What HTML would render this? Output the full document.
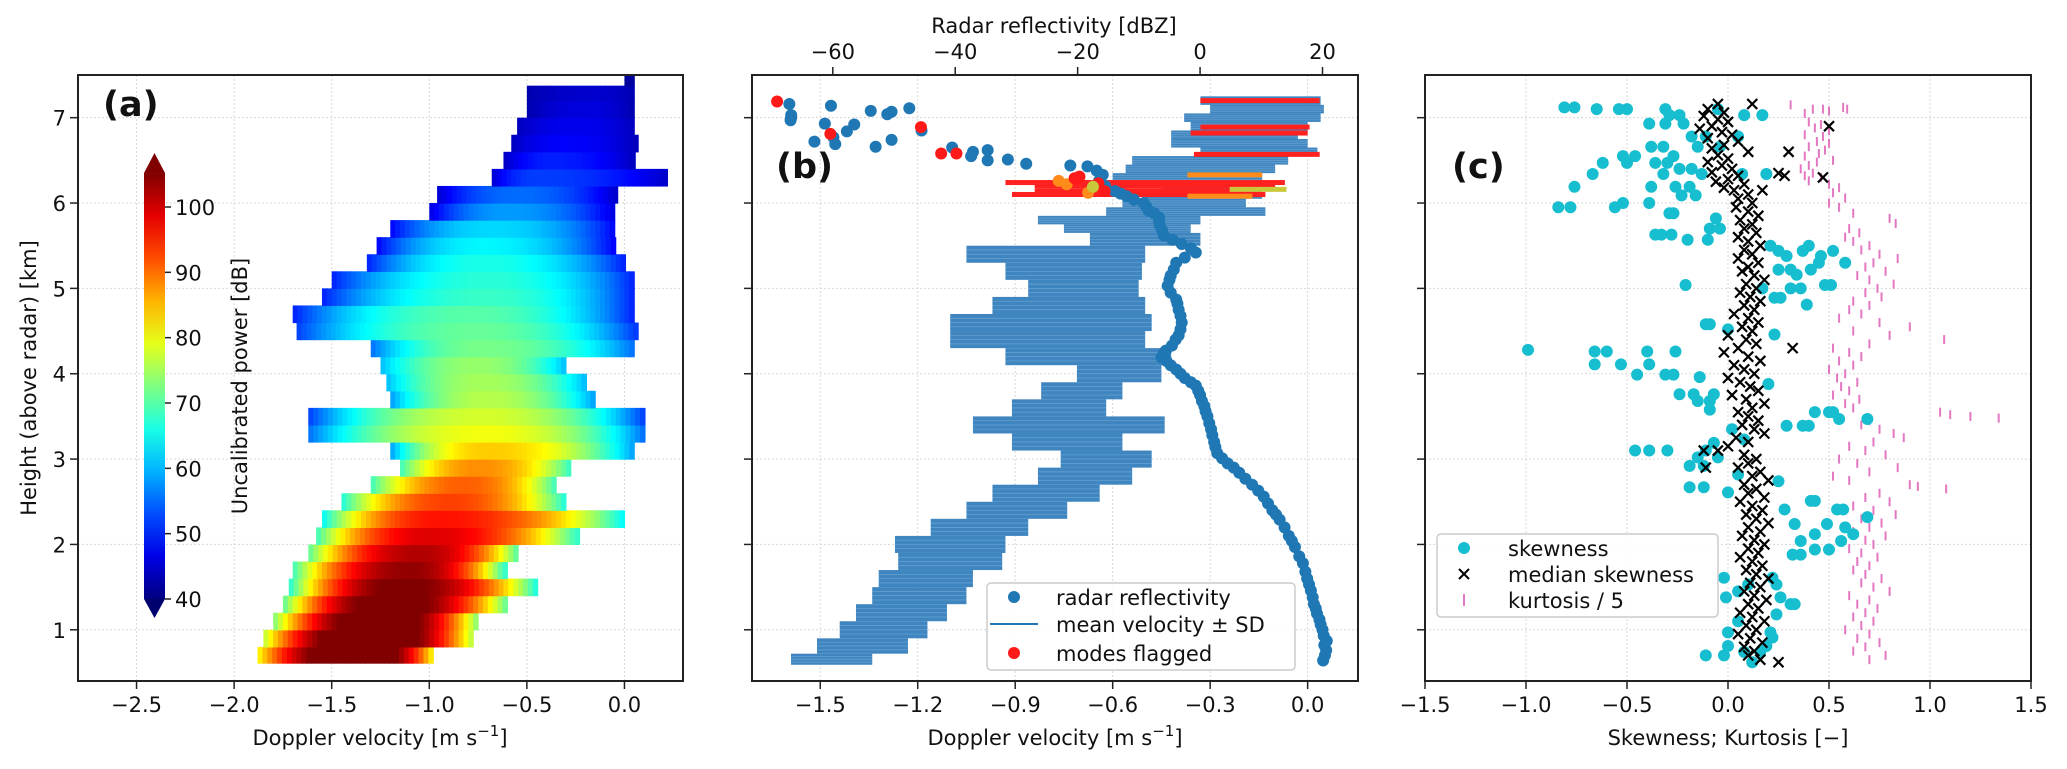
<!DOCTYPE html>
<html><head><meta charset="utf-8">
<style>
html,body{margin:0;padding:0;background:#fff;}
svg{display:block;font-family:"DejaVu Sans","Liberation Sans",sans-serif;}
</style></head>
<body>
<svg id="fig" xmlns="http://www.w3.org/2000/svg" width="2067" height="769" viewBox="0 0 2067 769">
<defs>
<clipPath id="clipA"><rect x="78" y="75" width="605" height="606"/></clipPath>
<clipPath id="clipB"><rect x="752" y="75" width="606" height="606"/></clipPath>
<clipPath id="clipC"><rect x="1425" y="75" width="606" height="606"/></clipPath>
<linearGradient id="jetGrad" x1="0" y1="1" x2="0" y2="0"></linearGradient>
</defs>
<g id="panelA"></g>
<g id="panelB"></g>
<g id="panelC"></g>
</svg>
<script>
// ---------- Panel (a) heatmap rows ----------
const aRowH   = [0.7,0.9,1.1,1.3,1.5,1.7,1.9,2.1,2.3,2.5,2.7,2.9,3.1,3.3,3.5,3.7,3.9,4.1,4.3,4.5,4.7,4.9,5.1,5.3,5.5,5.7,5.9,6.1,6.3,6.5,6.7,6.9,7.1,7.3,7.45];
const aRowL   = [-1.88,-1.85,-1.8,-1.75,-1.72,-1.7,-1.62,-1.58,-1.55,-1.45,-1.3,-1.15,-1.2,-1.62,-1.62,-1.2,-1.22,-1.25,-1.3,-1.68,-1.7,-1.55,-1.5,-1.32,-1.27,-1.2,-1.0,-0.96,-0.68,-0.62,-0.58,-0.55,-0.5,-0.5,0.0];
const aRowR   = [-0.98,-0.78,-0.75,-0.6,-0.45,-0.62,-0.55,-0.25,0.0,-0.3,-0.35,-0.28,0.05,0.1,0.1,-0.15,-0.2,-0.3,0.05,0.05,0.05,0.05,0.05,0.0,-0.05,-0.05,-0.05,-0.05,0.2,0.05,0.05,0.05,0.05,0.05,0.04];
const aRowPk  = [-1.35,-1.3,-1.25,-1.2,-1.15,-1.1,-1.05,-1.0,-0.95,-0.9,-0.82,-0.75,-0.7,-0.7,-0.72,-0.7,-0.72,-0.75,-0.72,-0.75,-0.78,-0.7,-0.7,-0.72,-0.72,-0.68,-0.6,-0.55,-0.45,-0.38,-0.3,-0.25,-0.2,-0.15,0.02];
const aRowPow = [112,112,110,108,106,104,102,99,96,93,91,88,84,80,78,76,75,74,72,71,70,68,67,66,64,62,58,55,52,50,48,47,46,45,42];
const aRowEdge= [80,76,72,70,66,68,70,68,64,66,68,68,58,55,52,58,60,60,55,52,50,50,50,50,48,48,46,45,45,44,44,44,43,43,42];
const aXTicks = [-2.5,-2.0,-1.5,-1.0,-0.5,0.0];
const aXTickLabels = ["−2.5","−2.0","−1.5","−1.0","−0.5","0.0"];
const yTicks = [1,2,3,4,5,6,7];
const cbTicks = [40,50,60,70,80,90,100];

// ---------- Panel (b) ----------
const bH = [0.64,0.8,1.0,1.2,1.4,1.6,1.8,2.0,2.2,2.4,2.6,2.8,3.0,3.2,3.4,3.6,3.8,4.0,4.2,4.4,4.6,4.8,5.0,5.2,5.4,5.6,5.7,5.8,5.9,6.0,6.1,6.2,6.3,6.4,6.5,6.6,6.7,6.8,6.9,7.0,7.1,7.2];
const bL = [-1.59,-1.51,-1.44,-1.39,-1.34,-1.32,-1.26,-1.27,-1.16,-1.05,-0.97,-0.83,-0.76,-0.91,-1.03,-0.91,-0.82,-0.71,-0.93,-1.10,-1.10,-0.97,-0.86,-0.93,-1.05,-0.67,-0.75,-0.83,-0.62,-0.57,-0.5,-0.45,-0.6,-0.56,-0.54,-0.33,-0.42,-0.42,-0.36,-0.38,-0.3,-0.33];
const bR = [-1.34,-1.23,-1.17,-1.11,-1.05,-1.03,-0.94,-0.93,-0.86,-0.74,-0.64,-0.54,-0.48,-0.57,-0.44,-0.62,-0.57,-0.45,-0.42,-0.50,-0.48,-0.50,-0.52,-0.51,-0.50,-0.33,-0.36,-0.33,-0.13,-0.19,-0.14,-0.12,-0.14,-0.1,-0.06,0.03,0.0,-0.03,0.0,0.04,0.05,0.04];
const flagH = [7.2,6.89,6.82,6.57,6.33,6.24,6.2,6.14,6.1,6.16,6.08];
const flagL = [-0.33,-0.33,-0.36,-0.35,-0.37,-0.93,-0.84,-0.84,-0.91,-0.24,-0.37];
const flagR = [0.037,0.006,0.0,0.037,-0.14,-0.07,-0.1,-0.17,-0.13,-0.065,-0.17];
const flagC = ["#ff2020","#ff2020","#ff2020","#ff2020","#ff8c1a","#ff2020","#ff2020","#ff2020","#ff2020","#c8c83a","#ff8c1a"];
const reflH = [0.64,0.7,0.76,0.82,0.87,0.93,1.0,1.06,1.12,1.19,1.25,1.3,1.38,1.46,1.53,1.6,1.68,1.78,1.86,1.97,2.04,2.1,2.2,2.29,2.35,2.4,2.48,2.56,2.63,2.7,2.77,2.84,2.9,2.95,3.01,3.07,3.14,3.2,3.28,3.35,3.42,3.5,3.56,3.62,3.68,3.75,3.8,3.86,3.9,3.95,4.0,4.05,4.1,4.15,4.19,4.23,4.27,4.33,4.4,4.45,4.52,4.6,4.68,4.75,4.82,4.87,4.95,5.03,5.1,5.15,5.22,5.3,5.36,5.42,5.47,5.52,5.57,5.62,5.68,5.74,5.79,5.83,5.88,5.91,5.96,6.0,6.04,6.08,6.11,6.14,6.2,6.26,6.33,6.38,6.43,6.44,6.46,6.51,6.5,6.62,6.6,6.55,6.65,6.66,6.69,6.72,6.74,6.77,6.85,6.84,6.92,6.93,7.03,7.04,7.07,7.11,7.08,7.14,7.16,7.0,6.97];
const reflZ = [20.1,20.4,20.6,20.3,20.7,20.2,20.0,19.7,19.5,19.1,18.9,18.6,18.4,18.1,17.8,17.5,17.2,16.8,16.2,15.5,15.0,14.5,13.8,13.0,12.4,11.8,11.1,10.4,9.5,8.5,7.4,6.4,5.5,4.5,3.6,2.8,2.5,2.3,2.0,1.8,1.5,1.2,0.9,0.7,0.3,0.0,-0.3,-0.7,-1.5,-2.5,-3.2,-3.9,-4.8,-5.5,-6.3,-6.0,-5.6,-4.6,-4.0,-3.5,-3.2,-3.0,-3.2,-3.5,-3.7,-3.9,-4.8,-5.3,-5.0,-4.8,-4.3,-3.9,-2.5,-0.7,-1.5,-3.0,-4.5,-5.9,-6.2,-6.6,-6.7,-6.7,-7.5,-8.4,-8.8,-9.2,-10.8,-12.0,-13.0,-13.9,-15.5,-16.5,-15.9,-16.9,-18.4,-21.2,-28.4,-31.4,-34.7,-34.7,-37.1,-37.4,-40.5,-53.0,-59.6,-63.0,-50.4,-59.9,-45.5,-57.7,-56.5,-61.3,-66.8,-51.1,-50.4,-47.5,-53.8,-60.3,-67.1,-66.8,-66.9];
const flagZ = [-69.1,-60.4,-45.6,-42.3,-39.8,-19.7,-16.6,-15.6,-23.1,-18.3,-21.8,-17.5,-20.5];
const flagZH= [7.19,6.81,6.89,6.58,6.58,6.31,6.23,6.14,6.26,6.12,6.22,6.19,6.29];
const flagZC= ["#ff1a1a","#ff1a1a","#ff1a1a","#ff1a1a","#ff1a1a","#ff1a1a","#ff1a1a","#ff1a1a","#ff8c1a","#ff8c1a","#ff8c1a","#c8c83a","#ff1a1a"];
const bXTicks = [-1.5,-1.2,-0.9,-0.6,-0.3,0.0];
const bXTickLabels = ["−1.5","−1.2","−0.9","−0.6","−0.3","0.0"];
const bTopTicks = [-60,-40,-20,0,20];
const bTopTickLabels = ["−60","−40","−20","0","20"];

// ---------- Panel (c) ----------
const skewH = [7.12,7.12,7.1,7.1,7.1,7.1,7.1,7.03,7.03,7.03,7.03,6.93,6.93,6.93,6.78,6.78,6.78,6.66,6.66,6.66,6.66,6.55,6.55,6.55,6.47,6.47,6.47,6.47,6.4,6.4,6.34,6.34,6.34,6.34,6.34,6.19,6.19,6.19,6.19,6.09,6.09,6.0,6.0,5.95,5.95,5.95,5.88,5.88,5.82,5.7,5.7,5.63,5.63,5.63,5.57,5.57,5.5,5.5,5.44,5.44,5.44,5.38,5.38,5.3,5.3,5.22,5.22,5.22,5.16,5.04,5.04,5.04,5.0,5.0,5.0,4.89,4.89,4.81,4.58,4.58,4.52,4.46,4.28,4.26,4.26,4.26,4.26,4.11,4.11,4.11,3.99,3.99,3.99,3.96,3.88,3.76,3.76,3.76,3.68,3.68,3.58,3.55,3.55,3.55,3.47,3.47,3.39,3.39,3.39,3.35,3.23,3.19,3.1,3.1,3.1,3.1,3.02,3.02,2.92,2.92,2.82,2.74,2.67,2.67,2.61,2.51,2.51,2.41,2.41,2.41,2.32,2.24,2.24,2.2,2.12,2.12,2.04,2.04,1.94,1.94,1.88,1.88,1.61,1.61,1.53,1.53,1.45,1.38,1.38,1.3,1.3,1.18,1.1,0.97,0.97,0.91,0.81,0.81,0.74,0.74,0.7,0.7,0.62];
const skewV = [-0.81,-0.76,-0.65,-0.54,-0.5,-0.31,-0.05,-0.29,-0.24,0.08,0.17,-0.22,-0.31,-0.39,-0.18,-0.11,0.05,-0.38,-0.32,-0.15,-0.04,-0.52,-0.46,-0.27,-0.62,-0.5,-0.36,-0.3,-0.24,-0.18,-0.67,-0.32,-0.13,0.07,0.19,-0.38,-0.76,-0.26,-0.19,-0.23,-0.16,-0.39,-0.52,-0.84,-0.78,-0.56,-0.29,-0.27,-0.06,-0.09,-0.04,-0.36,-0.33,-0.28,-0.2,-0.1,0.21,0.4,0.25,0.37,0.52,0.29,0.46,0.45,0.58,0.25,0.31,0.41,0.34,-0.21,0.48,0.51,0.17,0.36,0.31,0.23,0.26,0.39,-0.11,-0.09,0.0,0.23,-0.99,-0.66,-0.6,-0.4,-0.26,-0.66,-0.53,-0.39,-0.45,-0.31,-0.27,-0.14,0.2,-0.24,-0.17,-0.07,-0.15,-0.09,-0.09,0.43,0.5,0.52,0.55,0.69,0.29,0.37,0.4,0.02,0.08,-0.07,-0.46,-0.39,-0.3,-0.11,-0.15,-0.05,-0.19,-0.12,0.05,0.25,-0.19,-0.12,0.0,0.41,0.43,0.28,0.54,0.57,0.69,0.49,0.33,0.58,0.43,0.62,0.36,0.56,0.43,0.5,0.32,0.36,-0.02,0.22,0.24,0.1,0.05,-0.01,0.26,0.31,0.33,0.24,0.05,0.0,0.21,0.22,0.0,0.19,0.08,0.16,-0.11,-0.02,0.12];
const medH = [7.16,7.1,7.06,7.02,6.98,6.95,6.9,6.87,6.83,6.8,6.76,6.72,6.68,6.64,6.6,6.56,6.52,6.48,6.44,6.4,6.36,6.32,6.28,6.25,6.22,6.18,6.15,6.1,6.05,6.0,5.95,5.9,5.85,5.8,5.75,5.7,5.65,5.6,5.55,5.5,5.45,5.4,5.35,5.3,5.25,5.2,5.15,5.1,5.05,5.0,4.95,4.9,4.85,4.8,4.75,4.7,4.65,4.6,4.55,4.5,4.45,4.4,4.35,4.3,4.25,4.2,4.15,4.1,4.05,4.0,3.95,3.9,3.85,3.8,3.75,3.7,3.65,3.6,3.55,3.5,3.45,3.4,3.35,3.3,3.25,3.2,3.15,3.1,3.05,3.0,2.95,2.9,2.85,2.8,2.75,2.7,2.65,2.6,2.55,2.5,2.45,2.4,2.35,2.3,2.25,2.2,2.15,2.1,2.05,2.0,1.95,1.9,1.85,1.8,1.75,1.7,1.65,1.6,1.55,1.5,1.45,1.4,1.35,1.3,1.25,1.2,1.15,1.1,1.05,1.0,0.95,0.9,0.85,0.8,0.75,0.7,0.65,7.16,6.9,6.6,6.3,6.35,6.32,6.15,4.3,3.1,2.9,0.62];
const medV = [-0.05,-0.1,-0.02,-0.12,-0.05,0.0,-0.08,-0.14,-0.03,0.02,-0.1,0.05,-0.02,-0.08,0.1,-0.05,0.0,-0.1,-0.03,0.02,-0.08,0.05,0.0,-0.06,0.08,-0.02,0.03,0.1,0.05,0.12,0.04,0.1,0.15,0.06,0.12,0.08,0.14,0.05,0.1,0.16,0.08,0.12,0.05,0.15,0.1,0.07,0.13,0.18,0.09,0.14,0.06,0.11,0.16,0.08,0.13,0.03,0.1,0.15,0.07,0.12,0.0,0.09,0.14,0.05,-0.02,0.1,0.16,0.03,0.08,0.13,0.0,0.06,0.11,0.15,0.02,0.09,0.18,0.12,0.05,0.1,0.15,0.07,0.13,0.18,0.04,0.1,0.0,-0.05,0.08,0.14,0.1,0.05,0.16,0.12,0.2,0.08,0.14,0.1,0.18,0.06,0.12,0.17,0.09,0.14,0.2,0.1,0.16,0.07,0.13,0.18,0.1,0.15,0.06,0.12,0.17,0.09,0.14,0.2,0.11,0.16,0.08,0.13,0.19,0.1,0.15,0.06,0.12,0.18,0.09,0.14,0.05,0.11,0.17,0.08,0.13,0.1,0.16,0.12,0.5,0.3,0.47,0.25,0.28,0.17,0.32,-0.12,-0.11,0.25];
const kurtH = [7.15,7.1,7.1,7.08,7.05,7.12,7.1,6.95,6.92,6.88,6.85,6.8,6.78,6.72,6.7,6.66,6.62,6.58,6.55,6.5,6.48,6.44,6.4,6.35,6.32,6.3,6.26,6.22,6.18,6.12,6.06,6.0,5.95,5.88,5.82,5.76,5.7,5.65,5.6,5.55,5.5,5.45,5.4,5.35,5.3,5.25,5.2,5.15,5.1,5.05,5.0,4.95,4.9,4.85,4.8,4.75,4.7,4.65,4.6,4.55,4.5,4.45,4.4,4.35,4.3,4.25,4.2,4.15,4.1,4.05,4.0,3.95,3.9,3.85,3.8,3.75,3.7,3.65,3.6,3.55,3.52,3.5,3.48,3.45,3.4,3.35,3.3,3.25,3.2,3.15,3.1,3.05,3.0,2.95,2.9,2.85,2.8,2.75,2.7,2.68,2.65,2.6,2.55,2.5,2.45,2.4,2.35,2.3,2.25,2.2,2.15,2.1,2.05,2.0,1.95,1.9,1.85,1.8,1.75,1.7,1.65,1.6,1.55,1.5,1.45,1.4,1.35,1.3,1.25,1.2,1.15,1.1,1.05,1.0,0.95,0.9,0.85,0.8,0.75,0.7,0.65];
const kurtV = [0.31,0.42,0.47,0.5,0.38,0.57,0.59,0.4,0.46,0.43,0.5,0.38,0.47,0.44,0.5,0.4,0.48,0.45,0.38,0.52,0.44,0.4,0.36,0.42,0.38,0.46,0.4,0.5,0.55,0.52,0.58,0.5,0.55,0.62,0.8,0.83,0.6,0.65,0.58,0.62,0.7,0.66,0.75,0.84,0.72,0.68,0.78,0.64,0.7,0.82,0.74,0.68,0.76,0.62,0.7,0.6,0.66,0.55,0.75,0.9,0.62,0.8,1.07,0.7,0.52,0.6,0.66,0.55,0.62,0.5,0.58,0.54,0.64,0.56,0.6,0.52,0.65,0.58,0.62,1.05,1.1,1.2,1.34,0.7,0.66,0.75,0.82,0.87,0.72,0.6,0.68,0.78,0.55,0.64,0.84,0.7,0.52,0.6,0.9,0.94,1.08,0.75,0.68,0.8,0.62,0.72,0.83,0.66,0.76,0.7,0.62,0.78,0.68,0.72,0.6,0.66,0.74,0.64,0.7,0.62,0.68,0.76,0.66,0.72,0.8,0.6,0.7,0.64,0.74,0.68,0.62,0.72,0.66,0.58,0.7,0.64,0.75,0.68,0.62,0.78,0.7,0.66,0.64];
const cXTicks = [-1.5,-1.0,-0.5,0.0,0.5,1.0,1.5];
const cXTickLabels = ["−1.5","−1.0","−0.5","0.0","0.5","1.0","1.5"];

// ---------- helpers ----------
const NS = "http://www.w3.org/2000/svg";
function make(tag, parent){ const e=document.createElementNS(NS,tag); parent.appendChild(e); return e; }
function lin(d0,d1,p0,p1){ return v => p0 + (v-d0)/(d1-d0)*(p1-p0); }
function jet(t){ t=Math.max(0,Math.min(1,t)); const c=x=>Math.round(255*Math.max(0,Math.min(1,x)));
  return "rgb("+c(1.5-Math.abs(4*t-3))+","+c(1.5-Math.abs(4*t-2))+","+c(1.5-Math.abs(4*t-1))+")"; }
const Y = lin(0.4,7.5,681,75);
const AX = lin(-2.8,0.3,78,683);
const BX = lin(-1.71,0.155,752,1358);
const BZ = lin(-73.2,25.8,752,1358);
const CX = lin(-1.5,1.5,1425,2031);
const VMIN=40, VMAX=105.2;

function frame(g, x0, x1, name, xt, xtl, xs, ylabels){
  xt.forEach(v=>{ const l=make("line",g); l.setAttribute("x1",xs(v)); l.setAttribute("x2",xs(v)); l.setAttribute("y1",75); l.setAttribute("y2",681);
    l.setAttribute("stroke","#d8d8d8"); l.setAttribute("stroke-width","1"); l.setAttribute("stroke-dasharray","2,2");
    
     });
  yTicks.forEach(v=>{ const l=make("line",g); l.setAttribute("x1",x0); l.setAttribute("x2",x1); l.setAttribute("y1",Y(v)); l.setAttribute("y2",Y(v));
    l.setAttribute("stroke","#d8d8d8"); l.setAttribute("stroke-width","1"); l.setAttribute("stroke-dasharray","2,2");
    
     });
}
function axes(g, x0, x1, name, xt, xtl, xs, ylabels){
  const r=make("rect",g); r.setAttribute("x",x0); r.setAttribute("y",75); r.setAttribute("width",x1-x0); r.setAttribute("height",606);
  r.setAttribute("fill","none"); r.setAttribute("stroke","#222"); r.setAttribute("stroke-width","2");
  
  
  xt.forEach((v,i)=>{ const l=make("line",g); l.setAttribute("x1",xs(v)); l.setAttribute("x2",xs(v)); l.setAttribute("y1",681); l.setAttribute("y2",689);
    l.setAttribute("stroke","#222"); l.setAttribute("stroke-width","1.5");
    
    
    const t=make("text",g); t.setAttribute("x",xs(v)); t.setAttribute("y",712); t.setAttribute("text-anchor","middle"); t.setAttribute("font-size","21"); t.setAttribute("fill","#111");
    t.textContent=xtl[i];
    
     });
  yTicks.forEach(v=>{ const l=make("line",g); l.setAttribute("x1",x0-8); l.setAttribute("x2",x0); l.setAttribute("y1",Y(v)); l.setAttribute("y2",Y(v));
    l.setAttribute("stroke","#222"); l.setAttribute("stroke-width","1.5");
    
    
    if(ylabels){ const t=make("text",g); t.setAttribute("x",x0-12); t.setAttribute("y",Y(v)+8); t.setAttribute("text-anchor","end"); t.setAttribute("font-size","21"); t.setAttribute("fill","#111");
      t.textContent=String(v);
      
       } });
}
function txt(g, x, y, s, size, anchor, rot, bold){
  const t=make("text",g); t.setAttribute("x",x); t.setAttribute("y",y); t.setAttribute("font-size",size); t.setAttribute("text-anchor",anchor||"start"); t.setAttribute("fill","#111");
  if(rot) t.setAttribute("transform","rotate(-90 "+x+" "+y+")");
  if(bold) t.setAttribute("font-weight","bold");
  t.textContent=s; return t;
}

// ---------- Panel A ----------
const gA=document.getElementById("panelA");
frame(gA,78,683,"panel-a",aXTicks,aXTickLabels,AX,true);
const hm=make("g",gA); hm.setAttribute("clip-path","url(#clipA)");


aRowH.forEach((h,i)=>{
  const lo = i===0 ? h-0.09 : (h+aRowH[i-1])/2;
  const hi = i===aRowH.length-1 ? h+0.05 : (h+aRowH[i+1])/2;
  const step=0.025;
  for(let v=aRowL[i]; v<aRowR[i]-1e-6; v+=step){
    const vc=v+step/2, pk=aRowPk[i];
    let t = vc<pk ? (pk-vc)/Math.max(0.05,pk-aRowL[i]) : (vc-pk)/Math.max(0.05,aRowR[i]-pk);
    t=Math.min(1,t);
    const p = aRowPow[i] - (aRowPow[i]-aRowEdge[i])*Math.pow(t,2.2);
    const c=make("rect",hm); c.setAttribute("x",AX(v)); c.setAttribute("y",Y(hi)); c.setAttribute("width",AX(v+step)-AX(v)+0.6); c.setAttribute("height",Y(lo)-Y(hi)+0.6);
    c.setAttribute("fill",jet((p-VMIN)/(VMAX-VMIN)));
    
    
  }
});
axes(gA,78,683,"panel-a",aXTicks,aXTickLabels,AX,true);
const grad=document.getElementById("jetGrad");
for(let k=0;k<=10;k++){ const s=make("stop",grad); s.setAttribute("offset",(k*10)+"%"); s.setAttribute("stop-color",jet(k/10)); }
const CB = lin(40,100,599,207);
const cbG=make("g",gA);


const cbR=make("rect",cbG); cbR.setAttribute("x",144); cbR.setAttribute("y",CB(VMAX)); cbR.setAttribute("width",21); cbR.setAttribute("height",CB(VMIN)-CB(VMAX)); cbR.setAttribute("fill","url(#jetGrad)");


const tipT=make("polygon",cbG); tipT.setAttribute("points","144,"+CB(VMAX)+" 165,"+CB(VMAX)+" 154.5,153"); tipT.setAttribute("fill",jet(1.05));


const tipB=make("polygon",cbG); tipB.setAttribute("points","144,"+CB(VMIN)+" 165,"+CB(VMIN)+" 154.5,618"); tipB.setAttribute("fill","rgb(0,0,110)");


cbTicks.forEach(v=>{ const l=make("line",cbG); l.setAttribute("x1",165); l.setAttribute("x2",171); l.setAttribute("y1",CB(v)); l.setAttribute("y2",CB(v)); l.setAttribute("stroke","#222"); l.setAttribute("stroke-width","1.5");
  
  
  const t=txt(cbG,175,CB(v)+8,String(v),21);
  
   });
const cbl=txt(gA,247,386,"Uncalibrated power [dB]",21,"middle",true);


const pa=txt(gA,103,116,"(a)",35,"start",false,true);


const yl=txt(gA,36,378,"Height (above radar) [km]",21,"middle",true);


const axl=txt(gA,380,745,"Doppler velocity [m s",21,"middle");


{ const ts=make("tspan",axl); ts.setAttribute("dy","-9"); ts.setAttribute("font-size","15"); ts.textContent="−1"; const ts2=make("tspan",axl); ts2.setAttribute("dy","9"); ts2.textContent="]"; }

// ---------- Panel B ----------
const gB=document.getElementById("panelB");
frame(gB,752,1358,"panel-b",bXTicks,bXTickLabels,BX,false);
const bc=make("g",gB); bc.setAttribute("clip-path","url(#clipB)");


bH.forEach((h,i)=>{
  const lo = i===0 ? h-0.05 : (h+bH[i-1])/2;
  const hi = i===bH.length-1 ? h+0.05 : (h+bH[i+1])/2;
  const r=make("rect",bc); r.setAttribute("x",BX(bL[i])); r.setAttribute("width",BX(bR[i])-BX(bL[i])); r.setAttribute("y",Y(hi)); r.setAttribute("height",Y(lo)-Y(hi));
  r.setAttribute("fill","#3f86c0");
  
  
  for(let k=1;k<4;k++){ const s=make("line",bc); const yy=Y(lo)+(Y(hi)-Y(lo))*k/4; s.setAttribute("x1",BX(bL[i])); s.setAttribute("x2",BX(bR[i])); s.setAttribute("y1",yy); s.setAttribute("y2",yy); s.setAttribute("stroke","#6aa3d2"); s.setAttribute("stroke-width","0.7");
    
     }
});
flagH.forEach((h,i)=>{
  const r=make("rect",bc); r.setAttribute("x",BX(flagL[i])); r.setAttribute("width",BX(flagR[i])-BX(flagL[i])); r.setAttribute("y",Y(h)-2.5); r.setAttribute("height",5);
  r.setAttribute("fill",flagC[i]);
  
  
});
reflH.forEach((h,i)=>{
  const c=make("circle",bc); c.setAttribute("cx",BZ(reflZ[i])); c.setAttribute("cy",Y(h)); c.setAttribute("r",6); c.setAttribute("fill","#1f77b4");
  
  
});
flagZ.forEach((z,i)=>{
  const c=make("circle",bc); c.setAttribute("cx",BZ(z)); c.setAttribute("cy",Y(flagZH[i])); c.setAttribute("r",6); c.setAttribute("fill",flagZC[i]);
  
  
});
axes(gB,752,1358,"panel-b",bXTicks,bXTickLabels,BX,false);
bTopTicks.forEach((v,i)=>{ const l=make("line",gB); l.setAttribute("x1",BZ(v)); l.setAttribute("x2",BZ(v)); l.setAttribute("y1",67); l.setAttribute("y2",75); l.setAttribute("stroke","#222"); l.setAttribute("stroke-width","1.5");
  
  
  const t=txt(gB,BZ(v),59,bTopTickLabels[i],21,"middle");
  
   });
const tl=txt(gB,1054,33,"Radar reflectivity [dBZ]",21,"middle");


const bxl=txt(gB,1055,745,"Doppler velocity [m s",21,"middle");


{ const ts=make("tspan",bxl); ts.setAttribute("dy","-9"); ts.setAttribute("font-size","15"); ts.textContent="−1"; const ts2=make("tspan",bxl); ts2.setAttribute("dy","9"); ts2.textContent="]"; }
const pb=txt(gB,776,178,"(b)",35,"start",false,true);


const lgB=make("g",gB);


{ const r=make("rect",lgB); r.setAttribute("x",987); r.setAttribute("y",583); r.setAttribute("width",308); r.setAttribute("height",87); r.setAttribute("rx",4); r.setAttribute("fill","rgba(255,255,255,0.85)"); r.setAttribute("stroke","#ccc"); r.setAttribute("stroke-width","1.5");
  
  
  const c1=make("circle",lgB); c1.setAttribute("cx",1014); c1.setAttribute("cy",597); c1.setAttribute("r",6); c1.setAttribute("fill","#1f77b4");
  
  
  const t1=txt(lgB,1056,605,"radar reflectivity",21);  
  const l2=make("line",lgB); l2.setAttribute("x1",990); l2.setAttribute("x2",1038); l2.setAttribute("y1",624); l2.setAttribute("y2",624); l2.setAttribute("stroke","#1f77b4"); l2.setAttribute("stroke-width","2");
  
  
  const t2=txt(lgB,1056,632,"mean velocity ± SD",21);  
  const c3=make("circle",lgB); c3.setAttribute("cx",1014); c3.setAttribute("cy",653); c3.setAttribute("r",6); c3.setAttribute("fill","#ff1a1a");
  
  
  const t3=txt(lgB,1056,661,"modes flagged",21);   }

// ---------- Panel C ----------
const gC=document.getElementById("panelC");
frame(gC,1425,2031,"panel-c",cXTicks,cXTickLabels,CX,false);
const cc=make("g",gC); cc.setAttribute("clip-path","url(#clipC)");


kurtH.forEach((h,i)=>{
  const l=make("line",cc); l.setAttribute("x1",CX(kurtV[i])); l.setAttribute("x2",CX(kurtV[i])); l.setAttribute("y1",Y(h)-4.5); l.setAttribute("y2",Y(h)+4.5); l.setAttribute("stroke","#e377c2"); l.setAttribute("stroke-width","2");
  
  
});
skewH.forEach((h,i)=>{
  const c=make("circle",cc); c.setAttribute("cx",CX(skewV[i])); c.setAttribute("cy",Y(h)); c.setAttribute("r",6); c.setAttribute("fill","#17becf");
  
  
});
medH.forEach((h,i)=>{
  const x=CX(medV[i]), y=Y(h);
  const p=make("path",cc); p.setAttribute("d","M"+(x-5)+" "+(y-5)+"L"+(x+5)+" "+(y+5)+"M"+(x-5)+" "+(y+5)+"L"+(x+5)+" "+(y-5)); p.setAttribute("stroke","#000"); p.setAttribute("stroke-width","2.2");
  
  
});
axes(gC,1425,2031,"panel-c",cXTicks,cXTickLabels,CX,false);
const cxl=txt(gC,1728,745,"Skewness; Kurtosis [−]",21,"middle");


const pc=txt(gC,1452,178,"(c)",35,"start",false,true);


const lgC=make("g",gC);


{ const r=make("rect",lgC); r.setAttribute("x",1437); r.setAttribute("y",534); r.setAttribute("width",281); r.setAttribute("height",83); r.setAttribute("rx",4); r.setAttribute("fill","rgba(255,255,255,0.85)"); r.setAttribute("stroke","#ccc"); r.setAttribute("stroke-width","1.5");
  
  
  const c1=make("circle",lgC); c1.setAttribute("cx",1464); c1.setAttribute("cy",548); c1.setAttribute("r",6); c1.setAttribute("fill","#17becf");
  
  
  const t1=txt(lgC,1508,556,"skewness",21);  
  const p2=make("path",lgC); p2.setAttribute("d","M1459 569L1469 579M1459 579L1469 569"); p2.setAttribute("stroke","#000"); p2.setAttribute("stroke-width","2");
  
  
  const t2=txt(lgC,1508,582,"median skewness",21);  
  const l3=make("line",lgC); l3.setAttribute("x1",1464); l3.setAttribute("x2",1464); l3.setAttribute("y1",594); l3.setAttribute("y2",606); l3.setAttribute("stroke","#e377c2"); l3.setAttribute("stroke-width","2");
  
  
  const t3=txt(lgC,1508,608,"kurtosis / 5",21);   }
</script>
</body></html>
